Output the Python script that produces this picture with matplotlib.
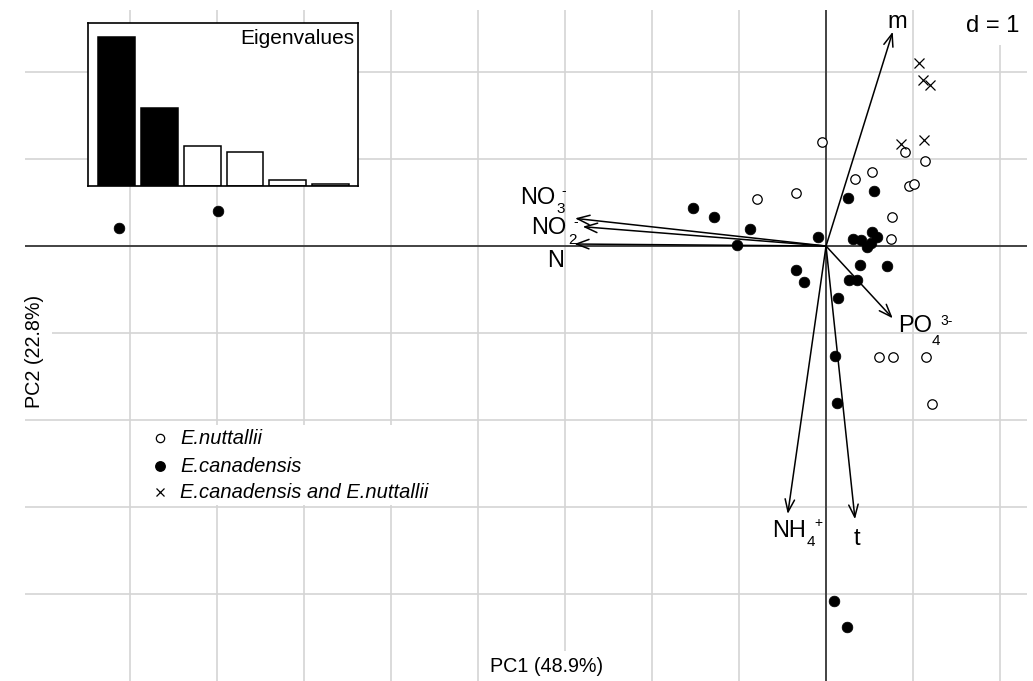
import matplotlib
matplotlib.use("Agg")
import matplotlib.pyplot as plt
from matplotlib.patches import Rectangle

plt.rcParams['font.family'] = ['Liberation Sans', 'DejaVu Sans']

# ---------------- data ----------------
nutt_x = [-0.046, 0.908, 1.141, 0.525, 0.337, 0.957, 1.015, -0.345, -0.793,
          0.755, 0.747, 0.613, 0.767, 1.149, 1.222]
nutt_y = [1.199, 1.077, 0.974, 0.851, 0.774, 0.690, 0.713, 0.606, 0.544,
          0.333, 0.084, -1.279, -1.272, -1.276, -1.813]

cana_x = [0.548, 0.253, -1.287, -1.525, -0.874, -0.092, 0.307, 0.406, 0.532,
          0.583, 0.468, 0.514, -1.023, -0.345, -0.249, 0.391, 0.705, 0.264,
          0.360, 0.134, 0.103, 0.123, 0.089, 0.245, -8.130, -6.985]
cana_y = [0.632, 0.548, 0.330, 0.440, 0.199, 0.098, 0.086, 0.069, 0.163,
          0.098, -0.008, 0.031, 0.008, -0.276, -0.417, -0.222, -0.233, -0.391,
          -0.391, -0.594, -1.264, -1.805, -4.077, -4.376, 0.210, 0.406]

both_x = [1.072, 1.111, 1.195, 1.126, 0.859]
both_y = [2.107, 1.908, 1.851, 1.218, 1.172]

var_names = ['m', 'NO3', 'NO2', 'N', 'PO4', 'NH4', 't']
var_x = [0.767, -2.885, -2.797, -2.893, 0.767, -0.440, 0.333]
var_y = [2.463, 0.318, 0.222, 0.023, -0.831, -3.080, -3.140]
var_main = ['m', 'NO', 'NO', 'N', 'PO', 'NH', 't']
var_sub = ['', '3', '2', '', '4', '4', '']
var_sup = ['', '-', '-', '', '3-', '+', '']

eigenvalues = [3.42, 1.78, 0.91, 0.78, 0.13, 0.03]

legend_labels = ['E.nuttallii', 'E.canadensis', 'E.canadensis and E.nuttallii']
xlabel = 'PC1 (48.9%)'
ylabel = 'PC2 (22.8%)'

# ---------------- figure ----------------
W, H = 1033, 681
fig = plt.figure(figsize=(W / 100, H / 100), dpi=100)
ax = fig.add_axes([25 / W, 0, 1002 / W, 671 / H])
ax.set_xlim(-9.207, 2.310)
ax.set_ylim(-5.0, 2.713)
for s in ax.spines.values():
    s.set_visible(False)
ax.set_xticks(range(-8, 3))
ax.set_yticks(range(-4, 3))
ax.tick_params(length=0, labelbottom=False, labelleft=False)
ax.grid(True, color='#d4d4d4', lw=1.2, zorder=0)
ax.set_axisbelow(True)

ax.axhline(0, color='#2a2a2a', lw=1.2, zorder=2)
ax.axvline(0, color='#2a2a2a', lw=1.2, zorder=2)

# arrows
for vx, vy in zip(var_x, var_y):
    ax.annotate('', xy=(vx, vy), xytext=(0, 0),
                arrowprops=dict(arrowstyle='->,head_length=0.9,head_width=0.34',
                                lw=1.1, color='black', shrinkA=0, shrinkB=0),
                zorder=3)


def px2d(px, py):
    return (px - 826) / 87.0, (246 - py) / 87.0


# label placements in reference pixels: main (x, baseline y, ha), sub centre, sup centre
lab_pos = {
    'm': ((897, 28, 'center'), None, None),
    'NO3': ((555, 204, 'right'), (561, 209), (564, 191)),
    'NO2': ((566, 234, 'right'), (572, 240), (576, 222)),
    'N': ((564, 267, 'right'), None, None),
    'PO4': ((898, 332, 'left'), (936, 341), (947, 321)),
    'NH4': ((772, 537, 'left'), (811, 542), (818, 523)),
    't': ((857, 545, 'center'), None, None),
}
lab_fs = 17
for name, main, sub, sup in zip(var_names, var_main, var_sub, var_sup):
    (mx, my, ha), subp, supp = lab_pos[name]
    x, y = px2d(mx, my)
    ax.text(x, y, main, fontsize=lab_fs, ha=ha, va='baseline', zorder=5)
    if sub:
        x, y = px2d(*subp)
        ax.text(x, y, sub, fontsize=11, ha='center', va='center', zorder=5)
    if sup:
        x, y = px2d(*supp)
        ax.text(x, y, sup, fontsize=10, ha='center', va='center', zorder=5)

# points
ax.plot(nutt_x, nutt_y, 'o', ms=6.8, mfc='white', mec='black', mew=0.9,
        ls='none', zorder=4)
ax.plot(cana_x, cana_y, 'o', ms=7.7, mfc='black', mec='black', mew=0.5,
        ls='none', zorder=4)
ax.plot(both_x, both_y, 'x', ms=6.5, color='black', mew=0.9, ls='none',
        zorder=4)

# legend (manual)
ax.add_patch(Rectangle((-7.966, -2.977), 3.414, 0.92, fc='white', ec='none',
                       zorder=1))
leg_y = [-2.207, -2.529, -2.828]
ax.plot([-7.655], [leg_y[0]], 'o', ms=6.0, mfc='white', mec='black', mew=0.9,
        zorder=4)
ax.plot([-7.655], [leg_y[1]], 'o', ms=6.8, mfc='black', mec='black', zorder=4)
ax.plot([-7.655], [leg_y[2]], 'x', ms=5.8, color='black', mew=0.9, zorder=4)
for yy, t in zip(leg_y, legend_labels):
    ax.text(-7.425, yy, t, fontsize=14.5, style='italic', ha='left',
            va='center', zorder=5)

# d = 1
ax.text(2.218, 2.529, 'd = 1', fontsize=17, ha='right', va='center',
        bbox=dict(fc='white', ec='none', pad=6), zorder=6, clip_on=False)

# axis labels
fig.text(34 / W, 1 - 351.7 / H, ylabel, rotation=90, ha='center', va='center',
         fontsize=14.2, bbox=dict(fc='white', ec='none', pad=6))
fig.text(546.5 / W, 1 - 667 / H, xlabel, ha='center', va='center',
         fontsize=14.2, bbox=dict(fc='white', ec='none', pad=5))

# inset eigenvalues
iax = fig.add_axes([88.3 / W, 1 - 185.7 / H, 270 / W, 163 / H])
iax.set_facecolor('white')
cols = ['black', 'black'] + ['white'] * (len(eigenvalues) - 2)
iax.bar(range(len(eigenvalues)), eigenvalues, width=0.86, color=cols,
        edgecolor='black', lw=1.1)
iax.set_xlim(-0.664, 5.65)
iax.set_ylim(0, 3.74)
iax.set_xticks([])
iax.set_yticks([])
for s in iax.spines.values():
    s.set_linewidth(1.2)
    s.set_color('black')
iax.text(0.985, 0.96, 'Eigenvalues', transform=iax.transAxes, ha='right',
         va='top', fontsize=15)

fig.savefig('out.png', dpi=100)
